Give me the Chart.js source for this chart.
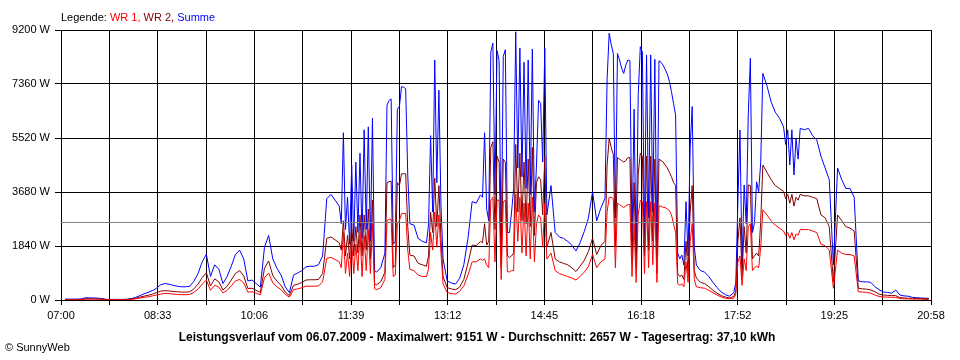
<!DOCTYPE html>
<html>
<head>
<meta charset="utf-8">
<script src="https://cdn.jsdelivr.net/npm/chart.js@4.4.1/dist/chart.umd.min.js"></script>
<style>
  html, body { margin: 0; padding: 0; background: #fff; }
  #wrap { position: relative; width: 960px; height: 360px; overflow: hidden; background: #fff; }
  #c { position: absolute; left: 0; top: 0; }
  .txt { position: absolute; font-family: "Liberation Sans", Arial, sans-serif; font-size: 11px; line-height: 13px; color: #000; white-space: nowrap; }
  #legend { left: 61px; top: 11px; }
  #title { left: 0; width: 954px; top: 330px; text-align: center; font-weight: bold; font-size: 12px; line-height: 14px; }
  #copy { left: 5px; top: 341px; }
</style>
</head>
<body>
<div id="wrap">
  <canvas id="c" width="960" height="360"></canvas>
  <div class="txt" id="legend">Legende: <span style="color:#ff0000">WR 1,</span> <span style="color:#800000">WR 2,</span> <span style="color:#0000ff">Summe</span></div>
  <div class="txt" id="title">Leistungsverlauf vom 06.07.2009 - Maximalwert: 9151 W - Durchschnitt: 2657 W - Tagesertrag: 37,10 kWh</div>
  <div class="txt" id="copy">© SunnyWeb</div>
</div>
<script>
// sample times, minutes after 07:00
const minutes = [
0,4,8,12,16,20,24,28,32,36,40,44,48,52,56,60,64,68,72,76,
80,84,88,92,96,100,104,108,112,116,120,124,128,132,136,140,144,148,152,156,
160,164,168,172,176,180,184,188,192,196,200,204,208,212,216,220,224,228,232,236,
240,244,248,252,256,260,264,
268,270,272,274,276,278,280,282,284,286,288,290,292,294,296,298,300,302,
304,308,312,
314,316,318,320,322,324,326,328,330,332,334,336,
340,344,348,352,
354,356,358,360,362,364,366,368,
372,376,380,384,388,392,396,400,404,
406,408,410,412,414,416,418,420,422,424,426,428,430,432,434,436,
438,440,442,444,446,448,450,452,454,456,458,460,462,464,466,468,
472,476,480,484,488,492,496,500,504,508,512,516,520,524,
526,528,530,532,534,536,538,540,542,544,546,548,550,552,554,556,558,560,562,564,566,568,
570,572,574,576,578,580,582,584,586,588,590,592,594,596,598,600,602,604,606,608,610,612,
616,620,624,628,632,636,640,644,
648,650,652,654,656,658,660,662,664,666,668,670,672,674,676,
680,684,688,692,
696,698,700,702,704,706,708,710,712,
716,720,724,728,732,736,740,744,748,752,756,760,764,768,772,776,
780,784,788,792,796,800,804,808,812,816,820,824,828,832,836
];

// Summe (W)
const summe = [
null,30,30,30,30,
40,80,70,70,60,50,
20,20,20,20,20,30,
50,90,150,210,260,320,400,
520,560,540,500,470,450,450,470,
640,900,1300,1560,800,1200,1050,560,
800,1150,1550,1700,1400,650,680,560,
440,1800,2200,1400,1080,850,450,250,
850,920,1000,1130,1150,1150,1200,1500,
3450,3600,3400,
3200,2600,5700,2400,3500,1900,4600,2000,4700,2300,5000,2100,5800,2400,5900,2000,6200,1000,
950,1100,1600,
6640,6800,6850,1900,2000,6500,6600,7270,7250,7200,4260,2600,
2550,2100,2000,1950,
2550,5600,3000,8180,4000,7150,3200,1400,
650,580,540,740,1200,2100,3350,3300,3580,
3500,5700,3100,2700,8460,8750,3600,8500,8160,1500,8300,8530,2300,2300,3000,3800,
9140,4500,8580,4200,8100,3800,8180,3600,8550,3000,4600,6800,6700,4700,8580,2900,
3900,2300,2150,2100,2000,1870,1670,1950,2330,2790,3690,2700,3130,3470,
7500,9090,8700,8400,2800,8400,8180,7900,7720,8000,8180,8150,1990,6500,1500,7000,8630,8450,2200,8350,2800,8350,
3000,8200,1500,8150,8100,8000,7850,7700,7450,7100,6700,6300,1600,1400,1530,1190,3350,1500,5200,6590,1800,1190,
1000,950,800,600,420,270,180,130,
250,600,3350,5790,1200,3920,2600,6300,8240,2300,2630,4030,3690,4700,7720,
7300,6750,6400,6200,
5900,5300,5800,4600,5800,4260,5500,4800,5850,
5800,5850,5600,5450,4900,4500,4100,1190,4500,4100,3800,3800,3500,650,620,620,
600,450,350,270,260,230,340,170,140,130,90,80,70,60,60
];

// WR 2 (W)
const wr2 = [
null,15,15,15,15,
20,40,40,40,35,30,
10,10,10,10,10,15,
40,60,100,130,160,200,250,
300,320,310,290,280,270,270,280,
380,540,760,930,480,720,620,340,
470,680,900,1000,820,390,400,330,
260,1080,1330,830,640,500,270,150,
500,540,600,680,690,690,700,900,
2100,2150,2050,
1950,1700,2700,1500,2200,1400,2600,1500,2500,1600,2900,1500,2900,1700,3100,1400,3400,550,
520,620,950,
4000,4030,4050,1100,1200,4000,3900,4300,4300,4300,2500,1530,
1500,1250,1200,1150,
1500,3000,2300,4150,2500,3900,2100,800,
420,380,350,440,700,1250,1870,1850,2000,
1950,2600,1870,2000,5200,5390,2400,4900,4700,1100,4800,4700,1500,1450,1500,1600,
5300,3000,5000,2700,4700,2600,4800,2500,5200,2200,4000,4200,4100,2900,4900,1800,
2300,1400,1300,1250,1200,1100,970,1150,1350,1650,2100,1550,1850,2000,
4600,5500,5200,4950,1800,4850,4800,4750,4700,4750,4850,4850,1300,4000,1100,4300,5000,4900,1500,4900,1700,4900,
2000,4800,900,4800,4750,4700,4600,4500,4350,4200,4000,3900,900,800,850,700,2000,900,3000,3900,1000,750,
600,560,450,330,230,150,100,70,
120,300,2000,2800,800,2500,1600,3920,3900,1400,1500,1600,1500,2700,4600,
4350,4100,3900,3800,
3700,3450,3600,3300,3600,3200,3500,3400,3600,
3550,3550,3500,3450,2900,2800,2500,620,2900,2700,2500,2450,2350,400,380,370,
340,280,200,170,160,150,150,80,70,60,60,50,50,40,40
];

// WR 1 (W)
const wr1 = [
null,10,10,10,10,
15,30,30,30,25,20,
10,10,10,10,10,10,
20,40,60,90,110,140,170,
200,230,220,200,190,180,180,190,
260,370,540,680,330,500,440,240,
330,480,650,700,580,270,280,230,
180,760,920,580,450,350,190,100,
350,380,420,470,470,470,480,620,
1420,1450,1380,
1300,1100,2300,900,1600,800,2000,900,1900,1000,2300,800,2200,1000,2400,900,2600,380,
350,420,700,
2700,2750,2750,800,850,2600,2700,2950,2950,2950,1700,1050,
1000,850,800,800,
1050,2300,1700,3000,1800,2900,1600,550,
250,220,200,300,480,850,1300,1300,1400,
1350,1400,1200,1100,3400,3500,1300,3400,3400,700,3350,3400,960,960,1000,1000,
3600,2000,3500,1600,3300,1500,3300,1400,3500,1300,2600,2900,2800,1800,3300,1400,
1600,1000,900,850,800,750,680,800,950,1130,1550,1100,1300,1400,
3000,3500,3500,3450,1100,3300,3250,3200,3150,3200,3250,3250,800,2600,600,2900,3400,3350,900,3350,1100,3350,
1200,3300,600,3200,3200,3150,3150,3100,3050,2900,2600,2300,550,500,550,450,1300,600,2000,2600,700,450,
420,400,330,250,170,100,60,40,
60,200,1300,1500,500,1400,1000,2500,2600,1000,1100,1150,1100,1800,3070,
2900,2700,2550,2450,
2350,2200,2300,2100,2300,2050,2250,2200,2400,
2400,2400,2350,2300,1900,1850,1700,400,1700,1600,1550,1550,1500,280,270,260,
230,170,120,100,100,90,90,50,40,40,30,30,30,20,20
];

const xTickLabels = ['07:00','08:33','10:06','11:39','13:12','14:45','16:18','17:52','19:25','20:58'];
const yTicks = [0,1840,3680,5520,7360,9200];
const X_SPAN = 838;          // 07:00 .. 20:58 in minutes
const AVERAGE_W = 2657;      // Durchschnitt

const avgLine = {
  id: 'avgLine',
  afterDatasetsDraw(chart) {
    const {ctx, chartArea, scales} = chart;
    const y = Math.round(scales.y.getPixelForValue(AVERAGE_W)) + 0.5;
    ctx.save();
    ctx.strokeStyle = '#808080';
    ctx.lineWidth = 1;
    ctx.beginPath();
    ctx.moveTo(chartArea.left, y);
    ctx.lineTo(chartArea.right, y);
    ctx.stroke();
    ctx.restore();
  }
};

const tickFont = { family: "'Liberation Sans', Arial, sans-serif", size: 11 };

new Chart(document.getElementById('c'), {
  type: 'line',
  data: {
    labels: minutes,
    datasets: [
      { label: 'WR 1', data: wr1, borderColor: '#ff0000' },
      { label: 'WR 2', data: wr2, borderColor: '#800000' },
      { label: 'Summe', data: summe, borderColor: '#0000ff' }
    ]
  },
  options: {
    responsive: false,
    devicePixelRatio: 1,
    animation: false,
    events: [],
    layout: { padding: { top: 30, right: 29, bottom: 0, left: 0 } },
    elements: {
      line: { borderWidth: 1, tension: 0, fill: false },
      point: { radius: 0 }
    },
    plugins: { legend: { display: false }, tooltip: { enabled: false }, title: { display: false } },
    scales: {
      x: {
        type: 'linear',
        min: 0,
        max: X_SPAN,
        z: 1,
        afterFit(s) { s.height = 60; },
        afterBuildTicks(s) {
          const t = [];
          for (let k = 0; k <= 18; k++) t.push({ value: k * X_SPAN / 18 });
          s.ticks = t;
        },
        grid: { color: '#000000', lineWidth: 1, tickLength: 5, drawTicks: true },
        border: { display: true, color: '#000000' },
        ticks: {
          autoSkip: false, maxRotation: 0, minRotation: 0, padding: 4,
          color: '#000000', font: tickFont,
          callback(v, i) { return i % 2 === 0 ? xTickLabels[i / 2] : ''; }
        }
      },
      y: {
        min: 0,
        max: 9200,
        z: 1,
        afterFit(s) { s.width = 61; },
        afterBuildTicks(s) { s.ticks = yTicks.map(v => ({ value: v })); },
        grid: { color: '#000000', lineWidth: 1, tickLength: 6, drawTicks: true },
        border: { display: true, color: '#000000' },
        ticks: {
          padding: 5, color: '#000000', font: tickFont,
          callback(v) { return v + ' W'; }
        }
      }
    }
  },
  plugins: [avgLine]
});
</script>
</body>
</html>
